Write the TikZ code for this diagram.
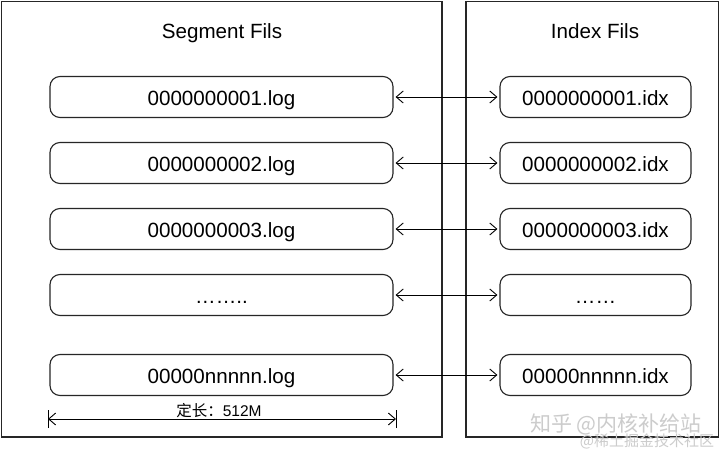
\documentclass[tikz,border=0pt]{standalone}
\usepackage{fontspec}
\setmainfont{Liberation Sans}
\newfontfamily\cjk{Noto Sans CJK SC}
\usetikzlibrary{arrows.meta}
\begin{document}
\begin{tikzpicture}[x=1bp,y=-1bp,
  outer/.style={draw=black!85,line width=1.1bp},
  filebox/.style={draw=black!85,line width=1.1bp,rounded corners=10bp,minimum height=41bp,inner sep=0pt,text height=17.5bp,text depth=0bp,font=\fontsize{20.6bp}{24bp}\selectfont},
  title/.style={font=\fontsize{20.6bp}{24bp}\selectfont},
  link/.style={{Straight Barb[length=7bp,width=12bp]}-{Straight Barb[length=7bp,width=12bp]},line width=0.9bp},
  wm/.style={text=black!20,inner sep=0pt}]
\useasboundingbox (0,0) rectangle (720,453);
\fill[white] (0,0) rectangle (720,453);
\draw[outer] (1.5,1.5) rectangle (442,437);
\draw[outer] (466,1.5) rectangle (718.5,437);
\node[title] (segtitle) at (222,33) {Segment Fils};
\node[title] (idxtitle) at (595,31) {Index Fils};
\foreach \i/\y/\l/\r in {1/97/0000000001.log/0000000001.idx,2/163/0000000002.log/0000000002.idx,3/229/0000000003.log/0000000003.idx,4/295/……../……,5/375/00000nnnnn.log/00000nnnnn.idx}{
  \node[filebox,minimum width=343bp] (L\i) at (221.5,\y) {\l};
  \node[filebox,minimum width=191bp] (R\i) at (595.5,\y) {\r};
  \draw[link] ([xshift=2bp]L\i.east) -- ([xshift=-2bp]R\i.west);
}
\coordinate (dimL) at (48,419);
\coordinate (dimR) at (396,419);
\draw[link] (dimL) -- (dimR);
\draw[line width=0.9bp] ([yshift=-9bp]dimL) -- ([yshift=9bp]dimL);
\draw[line width=0.9bp] ([yshift=-9bp]dimR) -- ([yshift=9bp]dimR);
\node[inner sep=0pt,font=\fontsize{15.5bp}{17bp}\selectfont] (dimlabel) at (219,411) {{\cjk 定长：}512M};
\node[wm,font=\cjk\fontsize{21bp}{23bp}\selectfont] (wm1) at (616,424) {知乎 @内核补给站};
\node[wm,font=\cjk\fontsize{15bp}{17bp}\selectfont] (wm2) at (647,441) {@稀土掘金技术社区};
\end{tikzpicture}
\end{document}
